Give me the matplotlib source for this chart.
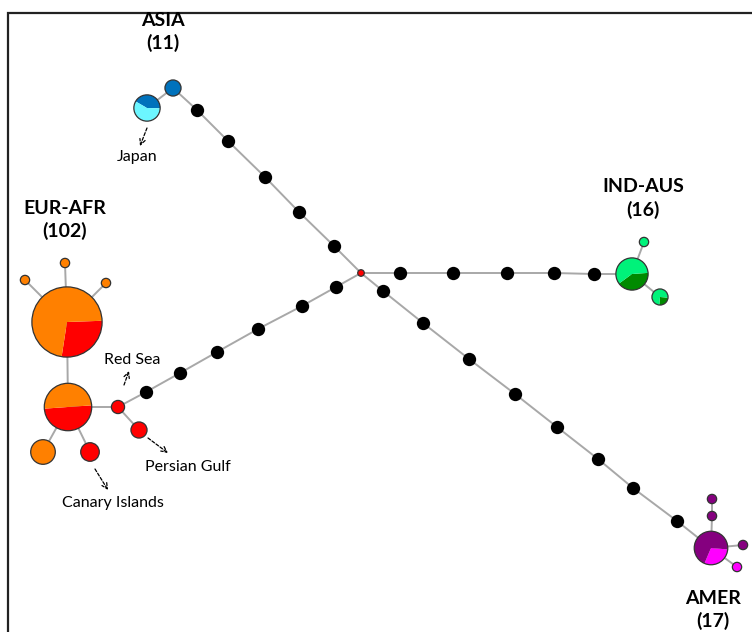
#!/usr/bin/env python3
"""Haplotype network: four regional clusters joined through a central node."""

import numpy as np
import matplotlib.pyplot as plt
from matplotlib.patches import Wedge

W, H = 752, 632

# haplotype nodes (layout in picture pixels, y measured from the top)
node_names = ['center', 'asia_a', 'asia_b', 'ind_a', 'ind_b', 'ind_c',
              'amer_a', 'amer_b', 'amer_c', 'amer_d', 'amer_e',
              'eur_big', 'eur_mid', 'eur_o', 'eur_r', 'eur_d1', 'eur_d2', 'eur_d3',
              'redsea', 'persian']
node_x = [361, 173, 147, 632, 644, 660, 711, 712, 712, 743, 737,
          67, 68, 43, 90, 25, 65, 106, 118, 139]
node_y = [273, 88, 108, 274, 242, 297, 548, 516, 499, 545, 567,
          322, 407, 452, 452, 280, 263, 283, 407, 430]
# sample counts per haplotype
node_n = [0.5, 3, 8, 12, 1, 3, 13, 1, 1, 1, 1,
          57, 26, 7, 4, 1, 1, 1, 2, 3]
# share of each colour in the pie, start angle of the first slice (deg, ccw from east)
node_frac = [[1], [1], [0.42, 0.58], [0.41, 0.59], [1], [0.25, 0.75],
             [0.3, 0.7], [1], [1], [1], [1],
             [0.28, 0.72], [0.5, 0.5], [1], [1], [1], [1], [1], [1], [1]]
node_start = [0, 0, 150, 4, 0, -5, -5, 0, 0, 0, 0,
              2, 4, 0, 0, 0, 0, 0, 0, 0]

ORANGE, RED = '#FF8000', '#FF0000'
CYAN, BLUE = '#6CF6FF', '#0072BC'
LGREEN, DGREEN = '#00F27A', '#008A00'
PURPLE, MAGENTA = '#85007F', '#FF00FF'
node_cols = [[RED], [BLUE], [BLUE, CYAN], [DGREEN, LGREEN], [LGREEN], [DGREEN, LGREEN],
             [MAGENTA, PURPLE], [PURPLE], [PURPLE], [PURPLE], [MAGENTA],
             [RED, ORANGE], [RED, ORANGE], [ORANGE], [RED], [ORANGE], [ORANGE], [ORANGE],
             [RED], [RED]]

# mutation steps (black dots) along the four long branches
branch_nw = [(334, 246), (299, 212), (265, 177), (228, 141), (197, 110)]
branch_e = [(400, 273), (453, 273), (507, 273), (554, 273), (594, 274)]
branch_se = [(383, 291), (423, 323), (469, 359), (515, 394), (557, 427),
             (598, 459), (633, 488), (677, 521)]
branch_sw = [(336, 287), (302, 306), (258, 329), (217, 352), (180, 373), (146, 392)]

branches = [('center', branch_nw, 'asia_a'), ('center', branch_e, 'ind_a'),
            ('center', branch_se, 'amer_a'), ('center', branch_sw, 'redsea')]
short_links = [('asia_a', 'asia_b'), ('ind_a', 'ind_b'), ('ind_a', 'ind_c'),
               ('amer_a', 'amer_b'), ('amer_b', 'amer_c'), ('amer_a', 'amer_d'),
               ('amer_a', 'amer_e'), ('redsea', 'persian'), ('redsea', 'eur_mid'),
               ('eur_mid', 'eur_big'), ('eur_mid', 'eur_o'), ('eur_mid', 'eur_r'),
               ('eur_big', 'eur_d1'), ('eur_big', 'eur_d2'), ('eur_big', 'eur_d3')]

region_labels = [('ASIA', '(11)', 163, 20), ('EUR-AFR', '(102)', 65, 208),
                 ('IND-AUS', '(16)', 643, 187), ('AMER', '(17)', 713, 598)]
# text, text position, arrow tail, arrow head
place_notes = [('Japan', (137, 157), (147, 128), (140, 146)),
               ('Red Sea', (132, 360), (124, 385), (129, 371)),
               ('Persian Gulf', (188, 467), (148, 438), (168, 453)),
               ('Canary Islands', (113, 503), (95, 469), (108, 490))]

pos = {name: (x, y) for name, x, y in zip(node_names, node_x, node_y)}

fig = plt.figure(figsize=(W / 100, H / 100), dpi=100)
ax = fig.add_axes([0, 0, 1, 1])
ax.set_xlim(0, W)
ax.set_ylim(H, 0)
ax.axis('off')

# frame on the left and top only, as in the source figure
ax.plot([8, 8, W], [H, 13, 13], color='#222222', lw=1.6, solid_joinstyle='miter')

line_kw = dict(color='#A8A8A8', lw=1.4, zorder=1)
for start, dots, end in branches:
    xs = [pos[start][0]] + [d[0] for d in dots] + [pos[end][0]]
    ys = [pos[start][1]] + [d[1] for d in dots] + [pos[end][1]]
    ax.plot(xs, ys, **line_kw)
    ax.scatter([d[0] for d in dots], [d[1] for d in dots], s=92,
               color='black', zorder=3, linewidths=0)
for a, b in short_links:
    ax.plot([pos[a][0], pos[b][0]], [pos[a][1], pos[b][1]], **line_kw)

# pie nodes, radius grows with sqrt of the haplotype count
for i, name in enumerate(node_names):
    x, y = pos[name]
    r = 4.65 * np.sqrt(node_n[i])
    theta = -node_start[i]  # y axis is flipped, so angles run clockwise on screen
    for frac, col in zip(node_frac[i], node_cols[i]):
        span = frac * 360
        ax.add_patch(Wedge((x, y), r, theta, theta + span, facecolor=col,
                           edgecolor='none', zorder=4))
        theta += span
    circ = plt.Circle((x, y), r, facecolor='none', edgecolor='#333333',
                      lw=0.9, zorder=5)
    ax.add_patch(circ)

for name, count, x, y in region_labels:
    ax.text(x, y, name, ha='center', va='center', fontsize=14,
            fontweight='bold', family='Lato')
    ax.text(x, y + 23, count, ha='center', va='center', fontsize=14,
            fontweight='bold', family='Lato')

for text, (tx, ty), tail, head in place_notes:
    ax.text(tx, ty, text, ha='center', va='center', fontsize=11.5, family='Lato')
    ax.annotate('', xy=head, xytext=tail,
                arrowprops=dict(arrowstyle='->', linestyle=(0, (2.5, 1.5)),
                                color='black', lw=0.9, shrinkA=0, shrinkB=0))

fig.savefig('out.png', dpi=100)
